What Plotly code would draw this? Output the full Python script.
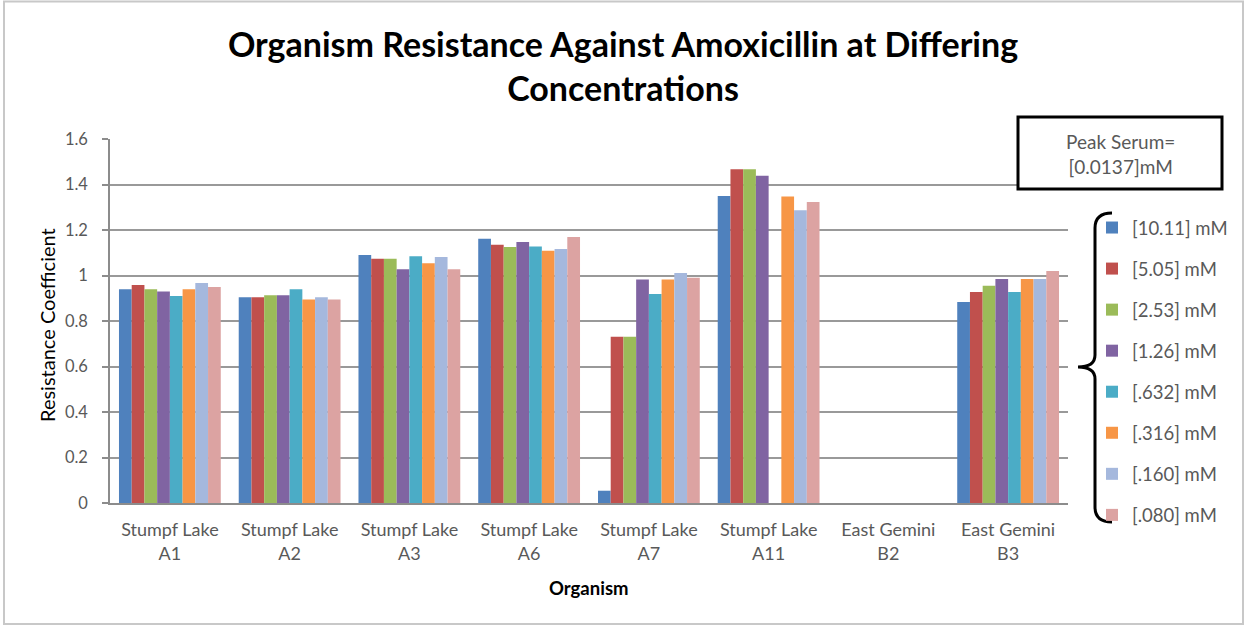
import plotly.graph_objects as go

categories = ["Stumpf Lake<br>A1", "Stumpf Lake<br>A2", "Stumpf Lake<br>A3", "Stumpf Lake<br>A6",
              "Stumpf Lake<br>A7", "Stumpf Lake<br>A11", "East Gemini<br>B2", "East Gemini<br>B3"]

series_names = ["[10.11] mM", "[5.05] mM", "[2.53] mM", "[1.26] mM",
                "[.632] mM", "[.316] mM", "[.160] mM", "[.080] mM"]

c_10_11 = [0.94, 0.904, 1.09, 1.162, 0.054, 1.349, None, 0.884]
c_5_05 = [0.958, 0.904, 1.074, 1.135, 0.731, 1.467, None, 0.927]
c_2_53 = [0.94, 0.913, 1.074, 1.125, 0.731, 1.467, None, 0.955]
c_1_26 = [0.93, 0.913, 1.027, 1.147, 0.982, 1.439, None, 0.985]
c_0_632 = [0.91, 0.94, 1.085, 1.127, 0.919, None, None, 0.927]
c_0_316 = [0.94, 0.894, 1.054, 1.109, 0.982, 1.347, None, 0.985]
c_0_160 = [0.967, 0.904, 1.081, 1.116, 1.011, 1.287, None, 0.985]
c_0_080 = [0.95, 0.894, 1.027, 1.169, 0.99, 1.323, None, 1.02]

series_values = [c_10_11, c_5_05, c_2_53, c_1_26, c_0_632, c_0_316, c_0_160, c_0_080]
colors = ["#4F81BD", "#C0504D", "#9BBB59", "#8064A2", "#4BACC6", "#F79646", "#A5B8DD", "#DCA3A2"]

W, H = 1246, 626
L, R, T, B = 110, 1068, 139, 503  # plot area in pixels


def px(x):
    return (x - L) / (R - L)


def py(y):
    return (B - y) / (B - T)


FONT = "Lato, Carlito, Arial, sans-serif"
GRAY = "#595959"

fig = go.Figure()
for name, vals, col in zip(series_names, series_values, colors):
    fig.add_trace(go.Bar(x=categories, y=vals, name=name, marker=dict(color=col, line=dict(width=0)),
                         legendgroup=name))

shapes = []
# outer chart border
shapes.append(dict(type="rect", xref="paper", yref="paper", x0=px(4), x1=px(1243), y0=py(1.5), y1=py(624),
                   line=dict(color="#C8C8C8", width=2), layer="below"))
# peak serum box
shapes.append(dict(type="rect", xref="paper", yref="paper", x0=px(1018), x1=px(1222), y0=py(117), y1=py(189),
                   line=dict(color="black", width=3), fillcolor="white", layer="above"))
# bracket
pts = [(1112, 213), (1095, 213), (1095, 228), (1095, 355), (1095, 367), (1078, 367), (1095, 367),
       (1095, 379), (1095, 507), (1095, 522), (1112, 522)]
p = [(px(a), py(b)) for a, b in pts]
path = (f"M {p[0][0]},{p[0][1]} Q {p[1][0]},{p[1][1]} {p[2][0]},{p[2][1]} L {p[3][0]},{p[3][1]} "
        f"Q {p[4][0]},{p[4][1]} {p[5][0]},{p[5][1]} Q {p[6][0]},{p[6][1]} {p[7][0]},{p[7][1]} "
        f"L {p[8][0]},{p[8][1]} Q {p[9][0]},{p[9][1]} {p[10][0]},{p[10][1]}")
shapes.append(dict(type="path", xref="paper", yref="paper", path=path, line=dict(color="black", width=3)))

annotations = [
    dict(text="Peak Serum=<br>[0.0137]mM", xref="paper", yref="paper", x=px(1120), y=py(154),
         xanchor="center", yanchor="middle", showarrow=False, font=dict(family=FONT, size=19, color=GRAY)),
    dict(text="<b>Organism</b>", xref="paper", yref="paper", x=0.5, y=py(588),
         xanchor="center", yanchor="middle", showarrow=False, font=dict(family=FONT, size=18.5, color="black")),
    dict(text="Resistance Coefficient", xref="paper", yref="paper", x=px(47), y=py(325), textangle=-90,
         xanchor="center", yanchor="middle", showarrow=False, font=dict(family=FONT, size=20, color="black")),
]

fig.update_layout(
    width=W, height=H,
    margin=dict(l=L, r=W - R, t=T, b=H - B, pad=0),
    paper_bgcolor="white", plot_bgcolor="white",
    font=dict(family=FONT, color=GRAY),
    title=dict(text="<b>Organism Resistance Against Amoxicillin at Differing<br>Concentrations</b>",
               x=0.5, xanchor="center", y=1 - 57 / H, yanchor="middle",
               font=dict(family=FONT, size=34, color="black")),
    barmode="group", bargap=0.15, bargroupgap=0,
    showlegend=True,
    legend=dict(x=px(1092), y=py(209), xanchor="left", yanchor="top", font=dict(family=FONT, size=18.5, color=GRAY),
                tracegroupgap=14, bgcolor="rgba(0,0,0,0)", itemwidth=30),
    shapes=shapes, annotations=annotations,
)
fig.update_xaxes(showline=True, linecolor="#8C8C8C", linewidth=1.5, showgrid=False,
                 tickfont=dict(family=FONT, size=18, color=GRAY), ticks="", mirror=False,
                 ticklabelstandoff=10)
fig.update_yaxes(range=[0, 1.6], dtick=0.2, showline=True, linecolor="#8C8C8C", linewidth=1.5,
                 showgrid=True, gridcolor="#999999", gridwidth=1.5, zeroline=False,
                 ticks="outside", ticklen=6, tickcolor="#8C8C8C", tickwidth=1.5,
                 tickfont=dict(family=FONT, size=16.5, color=GRAY), ticklabelstandoff=11)

fig.write_html("out.html")
